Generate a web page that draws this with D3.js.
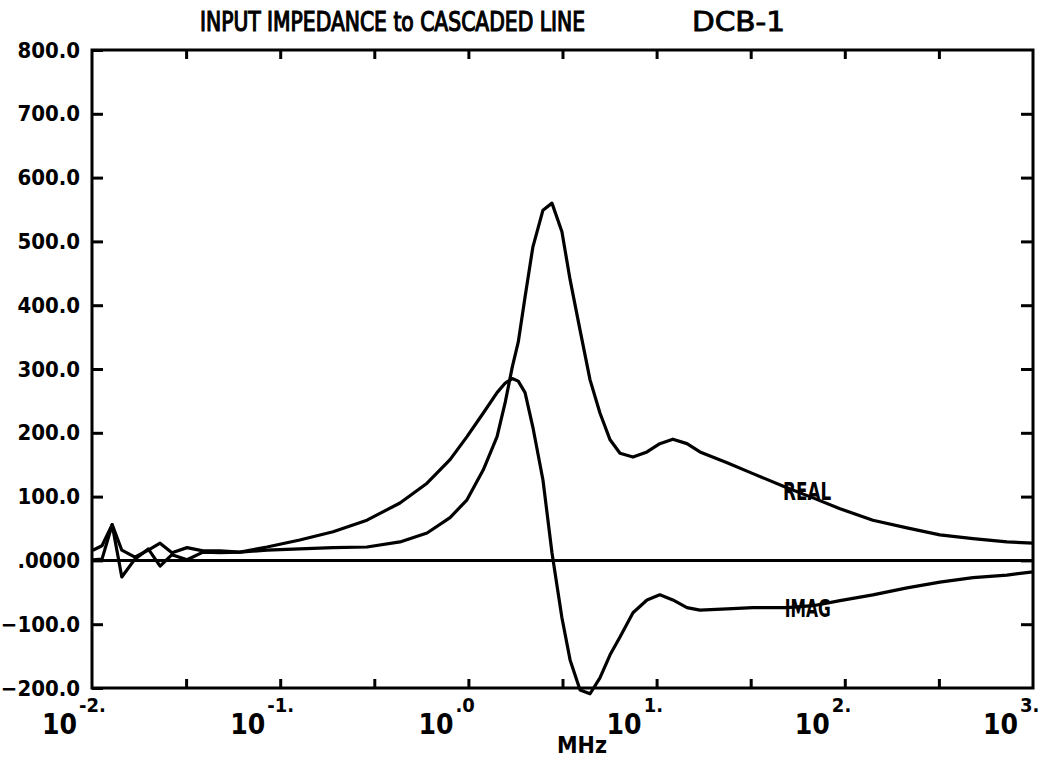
<!DOCTYPE html>
<html>
<head>
<meta charset="utf-8">
<script src="https://cdn.jsdelivr.net/npm/d3@7"></script>
<style>
  html, body { margin: 0; padding: 0; background: #fff; }
  svg { display: block; }
  text { font-family: "DejaVu Sans Condensed", "DejaVu Sans", sans-serif; fill: #000; }
</style>
</head>
<body>
<svg id="chart" width="1053" height="761"></svg>
<script>
// Frequency samples (MHz) shared by both impedance components
const freqMHz = [0.0101, 0.0113, 0.0128, 0.0144, 0.0169, 0.0199, 0.0230, 0.0266, 0.0320, 0.0389,
  0.0479, 0.0612, 0.0851, 0.127, 0.191, 0.289, 0.433, 0.603, 0.799, 0.983,
  1.20, 1.42, 1.57, 1.71, 1.84, 2.00, 2.20, 2.49, 2.78, 3.14,
  3.47, 3.92, 4.43, 5.00, 5.66, 6.39, 7.49, 8.89, 10.4, 12.2,
  14.5, 17.0, 23.7, 32.5, 49.3, 67.8, 94.3, 141, 214, 320,
  480, 727, 1000];

// Real part of the input impedance (ohms)
const realOhms = [16, 23, 56, 16, 5, 16, 27, 12, 20, 15,
  15, 13, 16, 18, 20, 21, 29, 43, 67, 95,
  142, 194, 248, 303, 342, 413, 491, 549, 560, 515,
  440, 361, 283, 231, 189, 168, 162, 170, 183, 190,
  183, 170, 153, 136, 114, 98, 81, 63, 51, 40,
  34, 29, 27];

// Imaginary part of the input impedance (ohms)
const imagOhms = [1, 2, 56, -26, 2, 18, -9, 9, 1, 13,
  12, 13, 21, 32, 45, 63, 90, 121, 158, 194,
  231, 263, 278, 285, 281, 263, 209, 126, 12, -90,
  -156, -203, -209, -184, -148, -120, -82, -62, -54, -62,
  -74, -78, -76, -74, -74, -71, -63, -54, -43, -34,
  -27, -23, -18];

// Axis ticks
const yTicks = [-200, -100, 0, 100, 200, 300, 400, 500, 600, 700, 800];
const xTickExponents = [-1.5, -1, -0.5, 0, 0.5, 1, 1.5, 2, 2.5];
const xDecadeExponents = [-2, -1, 0, 1, 2, 3];
const xDecadeSuffix = ["-2.", "-1.", ".0", "1.", "2.", "3."];

const titleText = "INPUT IMPEDANCE to CASCADED LINE";
const titleTag = "DCB-1";
const xAxisTitle = "MHz";

const svg = d3.select("#chart");
const plotL = 92, plotR = 1033, plotT = 50, plotB = 688;

const x = d3.scaleLog().domain([0.01, 1000]).range([plotL, plotR]);
const y = d3.scaleLinear().domain([-200, 800]).range([plotB, plotT]);

svg.append("rect").attr("width", 1053).attr("height", 761).attr("fill", "#fff");

// Title
svg.append("text").attr("x", 200).attr("y", 31)
  .attr("font-size", 27).attr("textLength", 385).attr("lengthAdjust", "spacingAndGlyphs")
  .attr("stroke", "#000").attr("stroke-width", 1.2)
  .text(titleText);
svg.append("text").attr("x", 692).attr("y", 31)
  .attr("font-size", 27).attr("textLength", 93).attr("lengthAdjust", "spacingAndGlyphs")
  .attr("stroke", "#000").attr("stroke-width", 0.8)
  .text(titleTag);

// Frame
svg.append("rect").attr("x", plotL).attr("y", plotT)
  .attr("width", plotR - plotL).attr("height", plotB - plotT)
  .attr("fill", "none").attr("stroke", "#000").attr("stroke-width", 3);

const yFmt = d => d === 0 ? ".0000" : d3.format(".1f")(d);

function styleAxis(g) {
  g.select(".domain").remove();
  g.selectAll(".tick line").attr("stroke", "#000").attr("stroke-width", 3);
  g.attr("font-family", null).attr("font-size", null);
}

// Left axis with labels, ticks pointing inward
svg.append("g").attr("transform", `translate(${plotL},0)`)
  .call(d3.axisLeft(y).tickValues(yTicks).tickSize(-11).tickSizeOuter(0).tickPadding(12).tickFormat(yFmt))
  .call(styleAxis)
  .call(g => g.selectAll(".tick text").attr("font-size", 22).attr("font-weight", "bold").attr("fill", "#000"));

// Right axis ticks
svg.append("g").attr("transform", `translate(${plotR},0)`)
  .call(d3.axisRight(y).tickValues(yTicks.slice(1, -1)).tickSize(-12).tickSizeOuter(0).tickFormat(""))
  .call(styleAxis);

const xTickVals = xTickExponents.map(e => Math.pow(10, e));

// Bottom and top axis ticks
svg.append("g").attr("transform", `translate(0,${plotB})`)
  .call(d3.axisBottom(x).tickValues(xTickVals).tickSize(-9).tickSizeOuter(0).tickFormat(""))
  .call(styleAxis);
svg.append("g").attr("transform", `translate(0,${plotT})`)
  .call(d3.axisTop(x).tickValues(xTickVals).tickSize(-9).tickSizeOuter(0).tickFormat(""))
  .call(styleAxis);

// Decade labels: 10 with raised exponent
const decLabels = svg.append("g");
xDecadeExponents.forEach((e, i) => {
  const t = decLabels.append("text")
    .attr("x", x(Math.pow(10, e)) - 50).attr("y", 734)
    .attr("font-weight", "bold");
  t.append("tspan").attr("font-size", 28).text("10");
  t.append("tspan").attr("font-size", 20).attr("dx", 2).attr("dy", -22).text(xDecadeSuffix[i]);
});

svg.append("text").attr("x", 557).attr("y", 753)
  .attr("font-size", 23).attr("font-weight", "bold").text(xAxisTitle);

// Zero reference line
svg.append("line")
  .attr("x1", plotL).attr("x2", plotR).attr("y1", y(0)).attr("y2", y(0))
  .attr("stroke", "#000").attr("stroke-width", 3);

// Impedance curves
const line = d3.line()
  .x(d => x(d[0])).y(d => y(d[1]))
  .curve(d3.curveLinear);

const realPts = freqMHz.map((f, i) => [f, realOhms[i]]);
const imagPts = freqMHz.map((f, i) => [f, imagOhms[i]]);

svg.append("path").datum(realPts).attr("d", line)
  .attr("fill", "none").attr("stroke", "#000").attr("stroke-width", 3.2)
  .attr("stroke-linejoin", "round");
svg.append("path").datum(imagPts).attr("d", line)
  .attr("fill", "none").attr("stroke", "#000").attr("stroke-width", 3.2)
  .attr("stroke-linejoin", "round");

// Curve labels
svg.append("text").attr("x", x(47)).attr("y", y(95))
  .attr("font-size", 24).attr("font-weight", "bold")
  .attr("textLength", 48).attr("lengthAdjust", "spacingAndGlyphs").text("REAL");
svg.append("text").attr("x", x(48)).attr("y", y(-88))
  .attr("font-size", 24).attr("font-weight", "bold")
  .attr("textLength", 46).attr("lengthAdjust", "spacingAndGlyphs").text("IMAG");
</script>
</body>
</html>
